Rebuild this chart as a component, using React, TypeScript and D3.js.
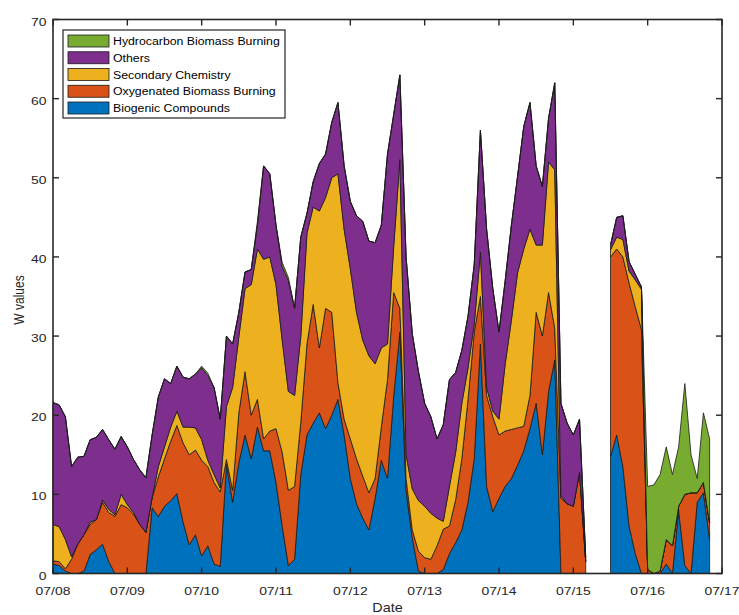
import React from "react";
import * as d3 from "d3";

// hours since 07/08 00:00 (2-hourly samples)
const hours = [
  0, 2, 4, 6, 8, 10, 12, 14, 16, 18, 20, 22, 24, 26, 28, 30, 32, 34, 36, 38, 40, 42, 44, 46,
  48, 50, 52, 54, 56, 58, 60, 62, 64, 66, 68, 70, 72, 74, 76, 78, 80, 82, 84, 86, 88, 90, 92, 94,
  96, 98, 100, 102, 104, 106, 108, 110, 112, 114, 116, 118, 120, 122, 124, 126, 128, 130, 132, 134, 136, 138, 140, 142,
  144, 146, 148, 150, 152, 154, 156, 158, 160, 162, 164, 166, 168, 170, 172, 174, 176, 178, 180, 182, 184, 186, 188, 190,
  192, 194, 196, 198, 200, 202, 204, 206, 208, 210, 212,
];

const biogenic: (number | null)[] = [
  1.2, 1.0, 0.3, 0, 0, 0.3, 2.4, 3.0, 3.7, 1.5, 0, 0, 0, 0, 0, 0,
  8.3, 7.2, 8.5, 9.2, 10.1, 6.5, 3.6, 4.9, 2.2, 3.5, 1.2, 0.9, 13.8, 9.0, 14.0, 17.5,
  14.5, 18.5, 15.5, 15.5, 11.5, 6.0, 1.0, 1.8, 12.5, 17.5, 19.0, 20.3, 18.3, 20.0, 22.0, 17.5,
  12.0, 8.8, 7.0, 5.5, 9.5, 14.3, 12.0, 22.4, 30.5, 10.5, 4.5, 0.3, 0, 0, 0, 0.5,
  2.5, 3.9, 5.5, 9.0, 14.5, 29.0, 11.0, 7.8, 9.5, 11.0, 12.0, 13.7, 15.5, 18.3, 21.5, 15.0,
  23.0, 27.0, 0, 0, 0, 0, 0, null, null, null, 14.8, 17.5, 13.5, 6.0, 2.5, 0,
  0, 0, 0, 1.2, 0, 8.0, 1.0, 0, 9.0, 10.2, 4.3,
];

const oxygenatedBB: (number | null)[] = [
  0.4, 0.5, 0.3, 1.8, 3.7, 4.6, 3.8, 3.8, 5.3, 6.2, 7.2, 8.7, 8.3, 7.5, 6.2, 5.2,
  1.3, 5.0, 6.0, 7.5, 8.6, 10.0, 11.4, 10.7, 12.1, 10.0, 10.3, 9.4, 0.6, 1.5, 6.3, 8.0,
  5.5, 3.5, 1.5, 2.5, 6.8, 9.3, 9.5, 9.2, 6.6, 11.5, 15.0, 8.2, 15.2, 13.0, 2.1, 2.0,
  5.0, 5.7, 5.3, 4.7, 2.5, 4.2, 12.5, 13.1, 3.0, 1.5, 1.0, 2.5, 2.0, 1.8, 3.5, 5.1,
  3.5, 5.4, 9.0, 13.0, 16.0, 6.0, 11.5, 12.0, 8.0, 7.0, 6.2, 4.7, 3.1, 4.2, 11.5, 15.0,
  12.5, 4.0, 9.5, 8.8, 8.5, 12.8, 1.5, null, null, null, 25.2, 23.5, 26.5, 30.7, 31.2, 30.8,
  0.5, 0, 0.3, 3.1, 3.5, 0.5, 9.0, 10.2, 1.2, 1.3, 2.1,
];

const secondary: (number | null)[] = [
  4.6, 4.4, 3.7, 0.3, 0, 0, 0.3, 0, 0.3, 0.4, 0.2, 1.3, 0.4, 0.2, 0, 0,
  0, 1.3, 1.5, 1.8, 1.8, 2.0, 3.5, 2.8, 2.6, 0.8, 1.0, 0.5, 6.7, 13.0, 9.6, 10.5,
  16.5, 19.0, 22.7, 22.0, 18.2, 14.2, 12.5, 11.5, 10.8, 14.0, 12.3, 17.3, 14.0, 17.0, 26.4, 24.0,
  21.5, 18.5, 17.2, 17.3, 14.5, 10.0, 4.5, 5.8, 18.8, 3.0, 5.2, 6.4, 6.5, 5.8, 3.5, 1.0,
  5.0, 6.0, 7.0, 4.0, 1.0, 5.6, 1.0, 0.7, 2.0, 8.5, 13.8, 19.6, 22.4, 21.0, 8.5, 11.5,
  16.5, 20.0, 0.3, 0, 0, 0, 0, null, null, null, 0.9, 1.5, 2.2, 1.5, 3.4, 5.1,
  0, 0, 0, 0, 0, 0, 0, 0, 0, 0, 0,
];

const others: (number | null)[] = [
  15.4, 15.4, 15.5, 11.4, 11.0, 9.9, 10.4, 10.4, 8.9, 8.8, 8.3, 7.3, 7.3, 6.7, 6.9, 6.9,
  7.9, 8.8, 8.6, 5.5, 5.7, 6.3, 6.1, 6.8, 9.1, 10.7, 11.0, 8.7, 8.9, 5.5, 3.1, 2.1,
  1.9, 3.0, 11.8, 10.5, 7.5, 9.3, 14.0, 11.0, 12.6, 2.5, 3.2, 6.0, 5.5, 7.0, 9.0, 8.0,
  8.5, 12.2, 15.0, 14.5, 15.3, 15.5, 24.0, 16.7, 10.7, 25.0, 19.6, 16.3, 13.0, 12.2, 10.0, 12.2,
  13.5, 10.1, 6.7, 6.5, 7.5, 15.4, 20.0, 15.5, 11.0, 10.5, 12.0, 12.2, 15.5, 16.0, 10.0, 7.4,
  5.5, 11.0, 11.7, 10.2, 9.0, 6.7, 0.5, null, null, null, 0.6, 2.5, 3.0, 1.2, 0.7, 0.3,
  0, 0, 0, 0, 0, 0, 0, 0, 0, 0, 0,
];

const hydrocarbonBB: (number | null)[] = [
  0, 0, 0, 0, 0, 0, 0, 0, 0, 0, 0, 0, 0, 0, 0, 0,
  0, 0, 0, 0, 0, 0, 0, 0, 0.2, 0.3, 0, 0, 0, 0, 0, 0,
  0, 0.5, 0, 0, 0, 0.5, 0.4, 0, 0, 0, 0, 0, 0, 0, 0, 0,
  0, 0, 0, 0, 0, 0, 0, 0, 0, 0, 0, 0, 0, 0, 0, 0,
  0, 0, 0, 0, 0, 0, 0, 0, 0, 0, 0, 0, 0, 0, 0, 0,
  0, 0, 0, 0, 0, 0, 0, null, null, null, 0, 0, 0, 0, 0, 0,
  10.5, 11.2, 12.2, 11.7, 9.0, 7.5, 14.0, 4.8, 1.8, 8.8, 10.6,
];

const seriesNames = [
  "Biogenic Compounds",
  "Oxygenated Biomass Burning",
  "Secondary Chemistry",
  "Others",
  "Hydrocarbon Biomass Burning",
];
const seriesColors = ["#0072BD", "#D95319", "#EDB120", "#7E2F8E", "#77AC30"];
const dateTickLabels = ["07/08", "07/09", "07/10", "07/11", "07/12", "07/13", "07/14", "07/15", "07/16", "07/17"];
const yTicks = [0, 10, 20, 30, 40, 50, 60, 70];

const LEFT = 53, RIGHT = 722, TOP = 19.5, BOTTOM = 573.5;
const FONT = "'Liberation Sans', Arial, Helvetica, sans-serif";
const TXT = "#262626";

export default function App() {
  const x = d3.scaleLinear().domain([0, 9 * 24]).range([LEFT, RIGHT]);
  const y = d3.scaleLinear().domain([0, 70]).range([BOTTOM, TOP]);

  const dataSeries = [biogenic, oxygenatedBB, secondary, others, hydrocarbonBB];
  const keys = ["s0", "s1", "s2", "s3", "s4"];
  const rows = hours.map((h, i) => {
    const r: any = { h, valid: biogenic[i] !== null };
    dataSeries.forEach((s, k) => (r[keys[k]] = s[i] ?? 0));
    return r;
  });
  const stacked = d3.stack<any>().keys(keys)(rows);
  const area = d3
    .area<any>()
    .defined((d: any) => d.data.valid)
    .x((d: any) => x(d.data.h))
    .y0((d: any) => y(d[0]))
    .y1((d: any) => y(d[1]));

  const xTickHours = dateTickLabels.map((_, i) => i * 24);
  const legendOrder = [4, 3, 2, 1, 0];

  return (
    <svg width={739} height={615} style={{ position: "absolute", left: 0, top: 0, background: "#fff" }}>
      <rect x={0} y={0} width={739} height={615} fill="#fff" />
      <g>
        {stacked.map((s, k) => (
          <path key={k} d={area(s as any) || ""} fill={seriesColors[k]} stroke="#1a1a1a" strokeWidth={0.8} strokeLinejoin="round" />
        ))}
      </g>
      {/* axes box */}
      <rect x={LEFT} y={TOP} width={RIGHT - LEFT} height={BOTTOM - TOP} fill="none" stroke={TXT} strokeWidth={1.6} />
      {xTickHours.map((h, i) => (
        <g key={"xt" + i}>
          <line x1={x(h)} x2={x(h)} y1={BOTTOM} y2={BOTTOM - 6} stroke={TXT} strokeWidth={1.4} />
          <line x1={x(h)} x2={x(h)} y1={TOP} y2={TOP + 6} stroke={TXT} strokeWidth={1.4} />
          <text transform={`translate(${x(h)},595) scale(1.2,1)`} textAnchor="middle" fontFamily={FONT} fontSize={11.6} fill={TXT}>
            {dateTickLabels[i]}
          </text>
        </g>
      ))}
      {yTicks.map((v) => (
        <g key={"yt" + v}>
          <line x1={LEFT} x2={LEFT + 6} y1={y(v)} y2={y(v)} stroke={TXT} strokeWidth={1.4} />
          <line x1={RIGHT} x2={RIGHT - 6} y1={y(v)} y2={y(v)} stroke={TXT} strokeWidth={1.4} />
          <text transform={`translate(46.5,${y(v) + 6}) scale(1.2,1)`} textAnchor="end" fontFamily={FONT} fontSize={11.6} fill={TXT}>
            {v}
          </text>
        </g>
      ))}
      <text transform={`translate(${(LEFT + RIGHT) / 2},612) scale(1.2,1)`} textAnchor="middle" fontFamily={FONT} fontSize={12} fill={TXT}>
        Date
      </text>
      <text transform={`translate(24,300) scale(1.25,1) rotate(-90)`} textAnchor="middle" fontFamily={FONT} fontSize={12} fill={TXT}>
        W values
      </text>
      {/* legend */}
      <g>
        <rect x={63} y={30} width={222} height={88} fill="#fff" stroke={TXT} strokeWidth={1.2} />
        {legendOrder.map((k, j) => {
          const cy = 41 + j * 16.75;
          return (
            <g key={"lg" + k}>
              <rect x={68} y={cy - 6} width={41} height={12} fill={seriesColors[k]} stroke="#1a1a1a" strokeWidth={0.8} />
              <text transform={`translate(113,${cy + 4}) scale(1.12,1)`} fontFamily={FONT} fontSize={11} fill="#000">
                {seriesNames[k]}
              </text>
            </g>
          );
        })}
      </g>
    </svg>
  );
}
